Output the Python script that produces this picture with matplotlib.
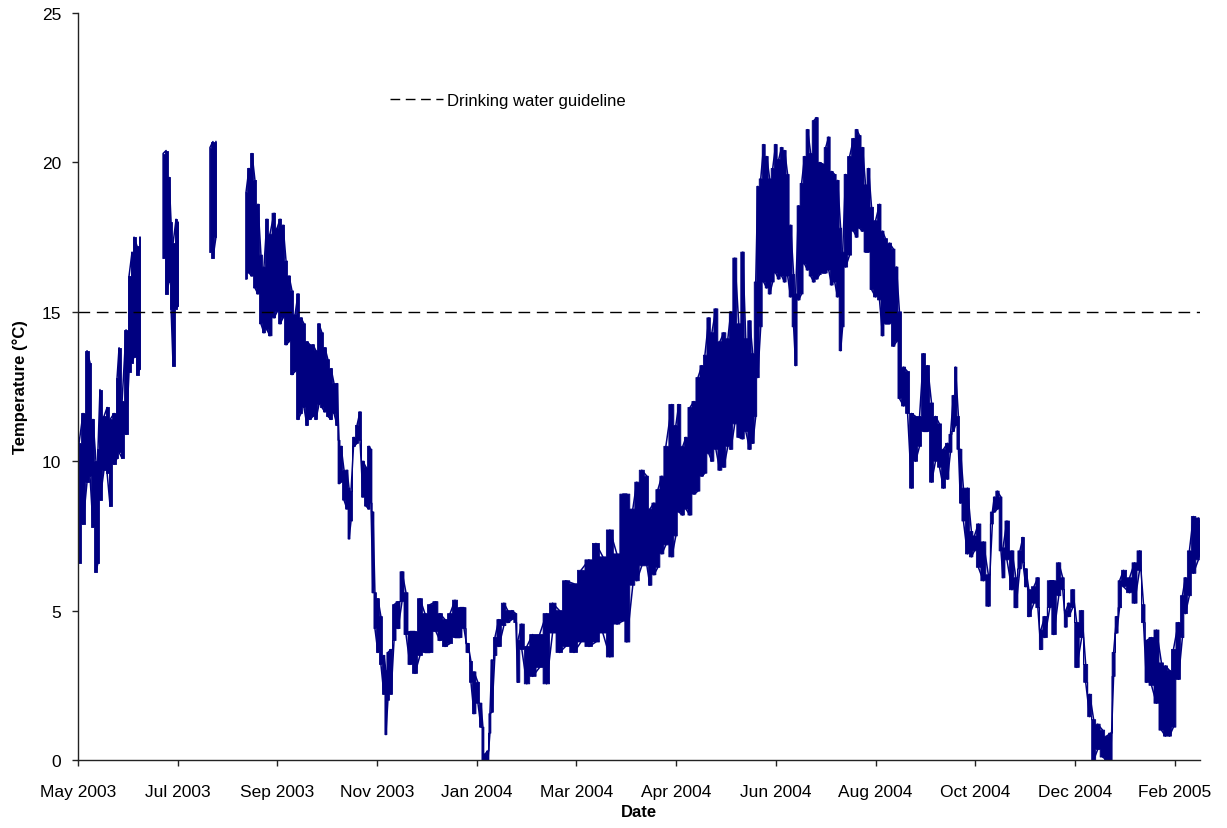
import numpy as np
import matplotlib
matplotlib.use("Agg")
import matplotlib.pyplot as plt
import matplotlib.dates as mdates
import matplotlib.ticker as mticker
from matplotlib.lines import Line2D
from datetime import datetime

plt.rcParams['font.family'] = ['Liberation Sans', 'DejaVu Sans']

START = datetime(2003, 5, 6)
TICK_STEP_DAYS = 60
N_TICKS = 12
X_END_DAY = 675.3
GUIDELINE = 15.0
NAVY = '#000080'
nan = np.nan

# Water temperature record: day offset from START, daily low and high (°C).
# NaN rows mark logger outages.
day = [
    0.6, 3.0, 5.4, 7.2, 9.0, 10.8, 12.0, 13.2, 15.6, 17.5, 19.3, 21.7, 23.5, 24.7,
    26.5, 28.9, 30.7, 32.5, 33.7, 35.5, 37.3,
    44.0,
    51.2, 53.0, 54.8, 56.0, 57.2, 59.0, 60.2,
    70.0,
    79.4, 81.2, 83.0,
    92.0,
    101.1, 102.9, 104.7, 106.5, 108.3, 110.1, 111.9, 113.7, 115.5, 118.0, 119.8,
    121.6, 123.4, 125.2, 127.0, 128.8, 130.6, 132.4, 134.2, 136.0, 137.8, 139.6,
    141.4, 143.2, 145.0, 146.8, 148.6, 150.4, 152.3, 154.1, 155.9, 157.1, 158.3,
    160.1, 161.9, 163.1, 164.3, 166.1, 167.9, 169.7, 171.5, 173.3, 175.1, 176.3,
    177.5, 178.7, 180.5, 182.3, 184.1, 185.3, 186.5, 188.4, 190.2, 192.6, 195.0,
    197.4, 199.8, 202.8, 205.8, 208.8, 211.8, 215.4, 217.8, 220.9, 223.9, 226.9,
    229.9, 232.3, 234.7, 236.5, 238.3, 240.7, 242.5, 243.7, 244.9, 246.7, 247.9,
    249.1, 250.9, 253.3, 256.3, 258.7, 261.1, 263.5, 264.7, 267.1, 270.1, 273.6,
    277.8, 282.0, 285.6, 289.8, 293.4, 298.5, 302.7, 307.5, 311.7, 315.9, 320.1,
    324.3, 327.9, 330.3, 333.9, 336.3, 339.3, 342.4, 344.2, 346.6, 349.0, 351.4,
    353.8, 357.4, 359.8, 361.6, 364.0, 365.9, 368.3, 370.7, 373.1, 375.5, 377.3,
    379.7, 381.5, 383.9, 386.3, 388.7, 391.1, 392.9, 395.3, 397.7, 400.1, 401.9,
    404.3, 406.1, 407.9, 409.1, 410.9, 412.7, 414.5, 416.3, 418.1, 419.9, 421.7,
    423.5, 425.3, 427.1, 428.9, 430.7, 431.9, 433.7, 435.5, 437.3, 439.1, 441.0,
    442.8, 444.6, 446.4, 448.2, 450.0, 451.8, 453.6, 455.4, 457.2, 459.0, 460.2,
    462.0, 464.4, 466.8, 468.6, 470.4, 472.2, 474.0, 475.8, 477.6, 480.0, 482.4,
    484.2, 486.0, 488.4, 490.8, 492.6, 494.4, 496.9, 499.3, 501.7, 504.1, 506.5,
    508.9, 511.3, 513.7, 516.1, 518.5, 520.9, 523.3, 525.1, 526.9, 528.1, 529.9,
    531.1, 532.9, 535.3, 537.7, 539.5, 541.9, 544.9, 547.9, 550.3, 551.5, 553.3,
    555.5, 556.7, 559.1, 562.1, 564.5, 566.9, 568.7, 570.5, 572.3, 575.3, 577.7,
    579.5, 581.9, 584.9, 587.3, 590.3, 592.7, 594.5, 596.3, 598.7, 601.1, 604.1,
    606.5, 608.9, 611.3, 613.7, 616.7, 619.1, 621.5, 623.3, 625.1, 626.9, 629.3,
    632.9, 635.9, 638.9, 641.3, 643.1, 646.1, 649.1, 652.1, 654.5, 656.9, 659.3,
    662.3, 664.7, 666.5, 668.9, 671.3, 674.3, 675.5,
]

temp_low = [
    6.6, 7.9, 9.3, 9.5, 7.8, 6.3, 6.6, 8.7, 9.7, 9.6, 8.5, 9.9, 10.1, 10.3,
    10.1, 10.9, 13.0, 13.3, 13.5, 12.9, 13.1,
    nan,
    16.8, 15.6, 16.0, 15.1, 13.2, 15.1, 15.2,
    nan,
    17.0, 16.8, 17.5,
    nan,
    16.1, 16.3, 16.2, 15.8, 15.6, 14.6, 14.3, 14.4, 14.2, 14.8, 15.0,
    14.6, 14.8, 13.9, 14.0, 12.9, 13.0, 11.4, 11.6, 11.8, 11.2, 11.4,
    11.5, 11.4, 11.9, 11.8, 11.65, 11.5, 11.4, 11.6, 11.2, 9.25, 9.3,
    8.7, 8.4, 7.4, 8.0, 10.5, 10.6, 10.7, 8.8, 8.5, 8.4, 8.6,
    5.6, 4.4, 3.6, 3.2, 2.2, 0.85, 2.0, 2.2, 4.0, 4.4, 5.3,
    4.2, 3.2, 2.9, 3.5, 3.6, 3.6, 4.3, 4.0, 3.8, 3.9, 4.1,
    4.1, 4.4, 3.6, 2.6, 1.55, 1.9, 1.1, 0.0, 0.0, 0.0, 0.9,
    1.6, 3.5, 3.8, 4.5, 4.6, 4.7, 4.6, 2.6, 3.7, 2.55, 2.8,
    3.1, 2.55, 4.25, 3.6, 3.8, 3.6, 3.95, 3.8, 3.95, 4.25, 3.45,
    4.55, 4.65, 3.95, 5.85, 6.0, 6.5, 6.5, 5.85, 6.2, 6.45, 6.9,
    7.2, 6.8, 7.5, 8.3, 8.2, 8.4, 8.2, 8.9, 9.0, 9.5, 9.6,
    10.25, 10.0, 10.4, 9.7, 9.8, 10.5, 10.4, 11.25, 10.8, 10.75, 11.0,
    10.4, 10.6, 11.5, 12.8, 14.5, 16.0, 15.8, 15.6, 16.0, 16.3, 16.1,
    16.2, 16.0, 16.2, 15.5, 14.5, 13.2, 15.4, 15.6, 16.6, 16.4, 16.2,
    16.0, 16.1, 16.25, 16.3, 16.3, 16.4, 15.9, 16.0, 15.5, 13.7, 14.5,
    16.5, 16.9, 17.7, 17.5, 17.8, 17.7, 17.0, 17.0, 15.75, 15.5, 15.4,
    14.2, 14.6, 14.6, 13.85, 14.0, 12.1, 11.85, 11.6, 9.1, 10.0, 10.5,
    11.0, 11.0, 9.3, 10.0, 9.8, 9.1, 9.4, 10.3, 11.0, 11.2, 10.4,
    8.6, 8.0, 6.9, 6.8, 7.0, 6.45, 6.0, 5.15, 7.9, 8.3, 8.4,
    7.0, 6.1, 6.7, 5.7, 5.1, 6.4, 6.6, 5.8, 4.8, 5.25, 5.1,
    3.7, 4.1, 5.1, 4.2, 5.5, 5.7, 4.45, 4.8, 5.1, 3.1, 4.1,
    2.6, 1.45, 0.0, 0.35, 0.1, 0.0, 0.0, 2.8, 4.25, 5.1, 5.8,
    5.6, 5.25, 6.35, 4.6, 2.6, 2.5, 1.9, 1.0, 0.8, 0.8, 1.1,
    2.7, 4.1, 4.9, 5.5, 6.25, 6.7, 6.8,
]

temp_high = [
    10.6, 11.6, 13.7, 13.3, 11.4, 10.0, 10.4, 12.4, 11.5, 11.8, 11.4, 11.6, 12.8, 13.8,
    12.0, 14.4, 16.2, 17.0, 17.5, 17.2, 17.5,
    nan,
    20.3, 20.4, 19.5, 18.0, 17.3, 18.1, 18.0,
    nan,
    20.5, 20.7, 20.7,
    nan,
    19.0, 19.8, 20.3, 19.4, 18.6, 16.9, 16.5, 18.1, 17.6, 18.3, 17.8,
    18.1, 17.9, 16.7, 16.2, 15.7, 14.9, 15.6, 14.8, 14.6, 14.0, 13.9,
    13.9, 13.7, 14.6, 14.3, 13.8, 13.4, 13.1, 12.6, 12.6, 10.7, 10.5,
    9.7, 9.7, 9.1, 9.0, 10.8, 11.2, 11.65, 10.0, 9.8, 10.5, 10.4,
    8.3, 5.6, 5.4, 4.8, 3.5, 3.0, 3.6, 3.7, 5.2, 5.3, 6.3,
    5.6, 4.3, 4.3, 5.4, 4.9, 5.2, 5.3, 4.9, 4.7, 4.9, 5.35,
    5.1, 5.1, 3.9, 3.3, 2.95, 2.6, 1.9, 1.1, 0.2, 0.3, 1.55,
    3.35, 4.1, 4.7, 5.25, 5.0, 5.0, 4.9, 4.0, 4.55, 3.8, 4.2,
    4.2, 4.9, 5.25, 5.0, 6.0, 5.9, 6.35, 6.7, 7.25, 6.8, 7.7,
    6.9, 8.9, 8.9, 8.4, 9.3, 9.7, 9.5, 8.4, 8.6, 9.05, 9.5,
    10.5, 11.9, 11.2, 11.9, 10.5, 10.8, 11.8, 12.0, 12.8, 13.2, 13.55,
    14.8, 14.3, 15.1, 14.0, 14.3, 14.1, 15.0, 16.8, 14.6, 17.0, 14.1,
    14.7, 13.6, 16.0, 19.2, 19.45, 20.6, 20.2, 19.45, 19.8, 20.6, 20.1,
    20.5, 20.4, 19.6, 17.9, 16.25, 15.6, 18.55, 19.3, 20.2, 21.1, 20.3,
    21.4, 21.5, 20.0, 19.95, 20.5, 20.85, 19.7, 19.6, 19.4, 17.8, 17.0,
    19.6, 20.2, 20.8, 21.1, 20.9, 20.5, 19.25, 19.8, 18.5, 18.05, 18.6,
    17.7, 17.45, 17.3, 17.1, 16.5, 15.0, 13.15, 13.0, 11.6, 11.5, 11.5,
    13.6, 13.2, 11.95, 11.5, 11.25, 10.4, 10.6, 10.9, 12.2, 13.15, 11.5,
    10.4, 9.1, 9.1, 7.65, 7.5, 7.9, 7.3, 6.2, 8.3, 8.8, 9.0,
    8.8, 7.1, 8.0, 7.0, 6.1, 7.0, 7.45, 6.4, 5.7, 5.8, 6.1,
    4.35, 4.8, 6.0, 6.0, 6.6, 6.1, 5.0, 5.25, 5.7, 4.6, 5.0,
    3.2, 2.2, 1.35, 1.2, 1.0, 0.8, 0.9, 3.6, 4.8, 6.0, 6.35,
    6.1, 6.6, 7.0, 5.2, 4.0, 4.1, 4.35, 3.25, 3.15, 3.0, 3.7,
    4.6, 5.5, 6.1, 7.0, 8.15, 8.1, 7.9,
]

t0 = mdates.date2num(START)
x = t0 + np.asarray(day, dtype=float)
lo = np.asarray(temp_low, dtype=float)
hi = np.asarray(temp_high, dtype=float)

fig = plt.figure(figsize=(12.27, 8.29), dpi=100)
ax = fig.add_axes([0.0636, 0.082, 0.9144, 0.901])

# Daily range drawn as stepped bands, then a trace running through each
# day's low and high so the diurnal swings read as vertical strokes.
ax.fill_between(x, lo, hi, step='mid', facecolor=NAVY, edgecolor=NAVY,
                linewidth=0.6)
tx, ty = [], []
for i, (d, a, b) in enumerate(zip(x, lo, hi)):
    if i % 2 == 0:
        tx += [d, d]
        ty += [a, b]
    else:
        tx += [d, d]
        ty += [b, a]
ax.plot(tx, ty, color=NAVY, linewidth=1.1)

ax.axhline(GUIDELINE, color='black', linewidth=1.0, dashes=(8.4, 4.8))

ax.set_ylim(0, 25)
ax.set_xlim(t0, t0 + X_END_DAY)
ax.yaxis.set_major_locator(mticker.MultipleLocator(5))
ax.xaxis.set_major_locator(mticker.FixedLocator(
    [t0 + TICK_STEP_DAYS * k for k in range(N_TICKS)]))
ax.xaxis.set_major_formatter(mdates.DateFormatter('%b %Y'))

for side in ('top', 'right'):
    ax.spines[side].set_visible(False)
for side in ('left', 'bottom'):
    ax.spines[side].set_linewidth(1.0)
    ax.spines[side].set_color('#222222')

ax.tick_params(axis='x', direction='out', length=4, width=1.0,
               labelsize=12.5, pad=13, colors='#222222', labelcolor='black')
ax.tick_params(axis='y', direction='out', length=4, width=1.0,
               labelsize=12.5, pad=8, colors='#222222', labelcolor='black')

ax.set_xlabel('Date', fontsize=12, fontweight='bold', labelpad=4)
ax.set_ylabel('Temperature (°C)', fontsize=12, fontweight='bold', labelpad=10)

handle = Line2D([], [], color='black', linewidth=1.0, dashes=(7, 4))
ax.legend([handle], ['Drinking water guideline'], loc='center left',
          bbox_to_anchor=(0.278, 0.8835), frameon=False, fontsize=12,
          handlelength=3.2, handletextpad=0.25, borderpad=0, borderaxespad=0)

fig.savefig('out.png', dpi=100)
